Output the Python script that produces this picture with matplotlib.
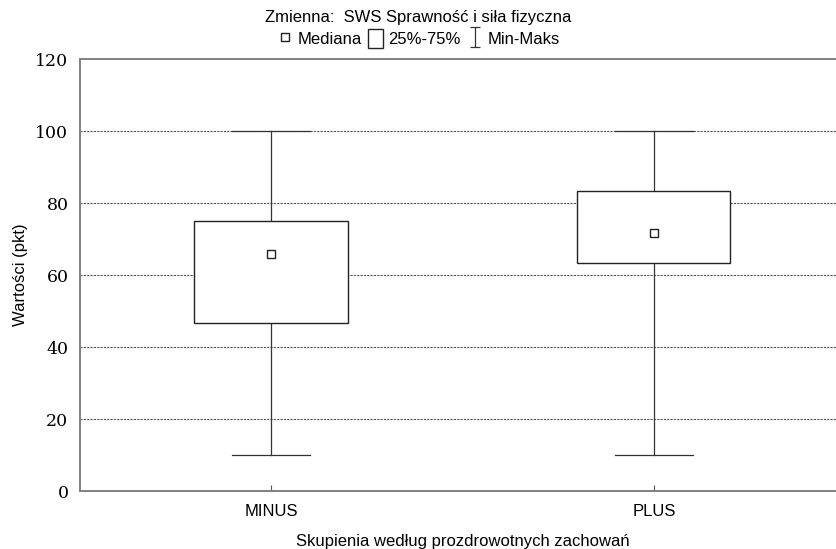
import numpy as np
import matplotlib.pyplot as plt
from matplotlib.lines import Line2D
from matplotlib.patches import Rectangle
from matplotlib.path import Path

# values
groups = ['MINUS', 'PLUS']
minimum = [10, 10]
q1 = [46.7, 63.3]
median = [65.8, 71.7]
q3 = [75.0, 83.3]
maximum = [100, 100]

yticks = [0, 20, 40, 60, 80, 100, 120]

plt.rcParams['font.family'] = ['Liberation Sans', 'DejaVu Sans']

fig = plt.figure(figsize=(8.37, 5.49), dpi=100)
ax = fig.add_axes([0.095, 0.1056, 0.915, 0.7869])

box_w = 0.40
cap_w = 0.204
for i, g in enumerate(groups):
    # whiskers
    ax.plot([i, i], [minimum[i], q1[i]], color='#333333', lw=0.9, zorder=2)
    ax.plot([i, i], [q3[i], maximum[i]], color='#333333', lw=0.9, zorder=2)
    ax.plot([i - cap_w / 2, i + cap_w / 2], [minimum[i]] * 2, color='#333333', lw=0.9, zorder=2)
    ax.plot([i - cap_w / 2, i + cap_w / 2], [maximum[i]] * 2, color='#333333', lw=0.9, zorder=2)
    # box
    ax.add_patch(Rectangle((i - box_w / 2, q1[i]), box_w, q3[i] - q1[i],
                           facecolor='white', edgecolor='#222222', lw=1.0, zorder=3))
    # median
    ax.plot(i, median[i], marker='s', ms=6, mfc='white', mec='#222222', mew=1.0, zorder=4)

ax.set_xlim(-0.5, 1.5)
ax.set_ylim(0, 120)
ax.set_xticks(range(len(groups)))
ax.set_xticklabels(groups, fontsize=12)
ax.set_yticks(yticks)
ax.set_yticklabels([str(v) for v in yticks], fontsize=12.5, family=['DejaVu Serif'])
ax.tick_params(axis='x', direction='in', length=4, color='#555555', pad=9)
ax.tick_params(axis='y', length=0, pad=8)
for v in yticks[1:-1]:
    ax.axhline(v, color='#555555', lw=0.8, ls=(0, (2, 1)), zorder=1)

ax.spines['right'].set_visible(False)
for s in ['left', 'bottom', 'top']:
    ax.spines[s].set_color('#808080')
    ax.spines[s].set_linewidth(1.4)

ax.set_ylabel('Wartości (pkt)', fontsize=12, labelpad=5)
ax.set_xlabel('Skupienia według prozdrowotnych zachowań', fontsize=12, labelpad=11)

fig.text(0.5, 0.968, 'Zmienna:  SWS Sprawność i siła fizyczna', ha='center', va='center', fontsize=12)

# legend line
ibeam = Path([(-0.5, -1), (0.5, -1), (0, -1), (0, 1), (-0.5, 1), (0.5, 1)],
             [Path.MOVETO, Path.LINETO, Path.MOVETO, Path.LINETO, Path.MOVETO, Path.LINETO])
handles = [
    Line2D([], [], ls='none', marker='s', ms=6, mfc='white', mec='#222222', mew=1.0),
    Rectangle((0, 0), 1, 1, facecolor='white', edgecolor='#222222', lw=1.0),
    Line2D([], [], ls='none', marker=ibeam, ms=15, mec='#333333', mew=0.9),
]
fig.legend(handles, ['Mediana', '25%-75%', 'Min-Maks'], loc='center', bbox_to_anchor=(0.5, 0.93),
           ncol=3, frameon=False, fontsize=12, handlelength=0.9, handleheight=1.3,
           handletextpad=0.3, columnspacing=0.4, borderpad=0)

fig.savefig('out.png', dpi=100)
